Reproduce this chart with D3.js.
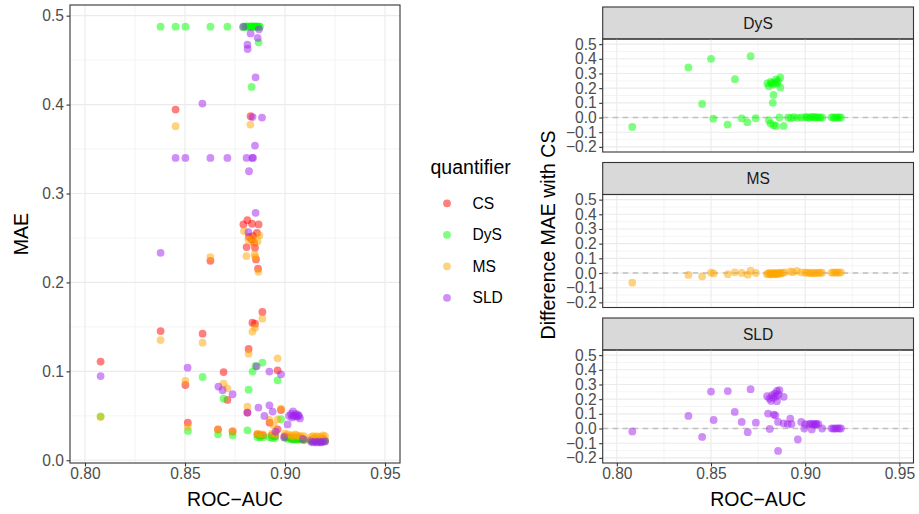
<!DOCTYPE html>
<html><head><meta charset="utf-8">
<script src="https://cdn.jsdelivr.net/npm/d3@7"></script>
<style>body{margin:0;background:#fff}svg{display:block;font-family:"Liberation Sans",Arial,Helvetica,sans-serif}</style>
</head><body><svg id="c" width="919" height="514"></svg>
<script>
// ---------- DATA ----------
const quantifiers = ["CS", "DyS", "MS", "SLD"];
const colors = ["#FF0000", "#00FF00", "#FFA500", "#A020F0"];
const xTicks = [0.80, 0.85, 0.90, 0.95];
const xTickLabels = ["0.80", "0.85", "0.90", "0.95"];
const maeTicks = [0.0, 0.1, 0.2, 0.3, 0.4, 0.5];
const diffTicks = [-0.2, -0.1, 0.0, 0.1, 0.2, 0.3, 0.4, 0.5];
const facetNames = ["DyS", "MS", "SLD"];

// [ROC-AUC, MAE]
const maeCS = [[0.8078,0.111],[0.8378,0.1453],[0.8453,0.3944],[0.8502,0.0846],[0.8514,0.0423],[0.8588,0.1423],[0.8627,0.2243],[0.8665,0.0348],[0.8693,0.0992],[0.8712,0.0678],[0.8738,0.0322],
[0.8792,0.2652],[0.8808,0.2397],[0.8812,0.270],[0.8812,0.0536],[0.8818,0.1251],[0.882,0.2513],[0.8828,0.3869],[0.8833,0.2483],[0.8835,0.266],[0.8837,0.1547],[0.885,0.1536],[0.885,0.239],[0.8855,0.2258],[0.886,0.2558],[0.8865,0.2154],[0.8868,0.2652],[0.8887,0.1667],[0.884,0.252],[0.8845,0.245],
[0.8862,0.029],[0.8875,0.028],[0.889,0.028],[0.8923,0.0423],[0.8963,0.1011],[0.8963,0.0348],[0.898,0.0565],[0.8935,0.028],[0.895,0.027],[0.900,0.027],[0.9015,0.026],[0.903,0.025],[0.904,0.024],[0.905,0.025],[0.906,0.024],[0.907,0.025],[0.908,0.024],[0.9095,0.023],[0.913,0.023],[0.914,0.022],[0.915,0.024],[0.916,0.022],[0.917,0.023],[0.918,0.021],[0.919,0.024],[0.920,0.022]];
const maeDyS = [[0.8078,0.0494],[0.8378,0.4876],[0.8453,0.4876],[0.8502,0.4876],[0.8515,0.033],[0.8588,0.0936],[0.8627,0.4876],[0.8665,0.0292],[0.8693,0.0693],[0.8712,0.4876],[0.8738,0.0281],
[0.879,0.487],[0.880,0.4876],[0.8805,0.488],[0.8812,0.4876],[0.8818,0.4876],[0.8825,0.488],[0.883,0.4876],[0.8835,0.4876],[0.884,0.488],[0.8845,0.4876],[0.885,0.4876],[0.8855,0.488],[0.886,0.4876],[0.8865,0.4876],[0.887,0.4876],[0.8875,0.4876],
[0.8868,0.470],[0.8833,0.4199],[0.8812,0.0337],[0.8818,0.0794],[0.8838,0.0997],[0.8852,0.106],[0.8887,0.1098],[0.8963,0.0899],[0.898,0.0461],
[0.8862,0.026],[0.8875,0.026],[0.889,0.026],[0.8923,0.026],[0.8935,0.025],[0.895,0.025],[0.900,0.025],[0.9015,0.024],[0.903,0.024],[0.904,0.023],[0.905,0.024],[0.906,0.023],[0.907,0.024],[0.908,0.023],[0.9095,0.023],[0.913,0.022],[0.914,0.022],[0.915,0.023],[0.916,0.021],[0.917,0.022],[0.918,0.021],[0.919,0.022],[0.920,0.022]];
const maeMS = [[0.8078,0.0485],[0.8378,0.1352],[0.8453,0.3757],[0.8502,0.0891],[0.8514,0.0378],[0.8588,0.1322],[0.8627,0.2285],[0.8665,0.034],[0.8693,0.0861],[0.8712,0.0809],[0.8738,0.033],
[0.8795,0.2577],[0.8807,0.2296],[0.8812,0.0603],[0.8817,0.2483],[0.8818,0.1199],[0.8827,0.3775],[0.8837,0.1446],[0.8842,0.2446],[0.8848,0.2315],[0.885,0.149],[0.8852,0.2284],[0.8863,0.2464],[0.8867,0.212],[0.8872,0.2528],[0.8887,0.1592],[0.8835,0.25],
[0.8862,0.030],[0.8875,0.029],[0.889,0.029],[0.8922,0.0453],[0.8943,0.0393],[0.8963,0.1146],[0.8963,0.046],[0.898,0.058],[0.8935,0.030],[0.895,0.029],[0.900,0.030],[0.9015,0.029],[0.903,0.028],[0.904,0.027],[0.905,0.029],[0.906,0.028],[0.907,0.027],[0.908,0.027],[0.9095,0.027],[0.913,0.026],[0.914,0.027],[0.915,0.026],[0.916,0.027],[0.917,0.026],[0.918,0.026],[0.919,0.028],[0.920,0.027]];
const maeSLD = [[0.8078,0.0947],[0.8378,0.2333],[0.8453,0.340],[0.8502,0.340],[0.8513,0.1041],[0.8587,0.4011],[0.8627,0.340],[0.8667,0.0828],[0.8688,0.0787],[0.8712,0.340],[0.8738,0.0742],
[0.8808,0.340],[0.8812,0.4674],[0.8813,0.4625],[0.8812,0.0536],[0.882,0.325],[0.8828,0.480],[0.8837,0.340],[0.884,0.340],[0.8838,0.386],[0.885,0.3539],[0.8853,0.4307],[0.8853,0.2783],[0.8817,0.2565],[0.8858,0.1056],[0.8863,0.475],[0.887,0.4846],[0.8885,0.3854],[0.8867,0.0592],[0.8792,0.4876],
[0.8897,0.0498],[0.8922,0.0618],[0.8938,0.0547],[0.8922,0.0997],[0.898,0.0966],[0.8953,0.0322],[0.9013,0.0403],
[0.902,0.050],[0.903,0.052],[0.9035,0.048],[0.904,0.055],[0.905,0.050],[0.9055,0.052],[0.906,0.049],[0.9065,0.051],[0.907,0.050],[0.9075,0.047],[0.9042,0.0498],
[0.8995,0.026],[0.909,0.024],[0.913,0.021],[0.914,0.020],[0.915,0.021],[0.916,0.020],[0.917,0.021],[0.918,0.020],[0.919,0.021],[0.920,0.021]];

// [ROC-AUC, MAE difference with CS]
const diffDyS = [[0.8082,-0.064],[0.838,0.341],[0.8453,0.092],[0.85,0.40],[0.8512,-0.008],[0.8588,-0.048],[0.8627,0.261],[0.8663,-0.006],[0.8693,-0.032],[0.871,0.418],[0.8737,-0.005],
[0.8799,0.232],[0.8807,0.213],[0.8816,0.243],[0.883,0.225],[0.8845,0.259],[0.8856,0.250],[0.8868,0.273],[0.8868,0.205],[0.8822,0.235],[0.8838,0.24],[0.885,0.232],
[0.8832,0.154],[0.8828,0.10],[0.8807,-0.018],[0.8816,-0.041],[0.8833,-0.052],[0.8845,-0.057],[0.8863,0.0],[0.8886,-0.057],
[0.891,0],[0.8925,-0.003],[0.894,0.002],[0.896,-0.002],[0.898,0],[0.9,0.003],[0.901,0.002],[0.902,-0.002],[0.903,0.003],[0.904,0.004],[0.905,0],[0.906,0.002],[0.907,0.001],[0.908,-0.001],[0.909,0],[0.914,0.001],[0.915,0],[0.916,-0.001],[0.917,0],[0.918,0],[0.919,0]];
const diffMS = [[0.8082,-0.066],[0.838,-0.013],[0.8453,-0.023],[0.85,0.003],[0.8514,-0.003],[0.8589,-0.008],[0.8626,0.005],[0.8663,0],[0.8695,-0.011],[0.871,0.016],[0.8738,0],
[0.8797,-0.008],[0.8803,-0.004],[0.881,0.002],[0.8815,-0.01],[0.882,-0.006],[0.8825,-0.003],[0.883,-0.008],[0.8835,0.001],[0.884,-0.005],[0.8845,-0.009],[0.885,-0.002],[0.8855,-0.006],[0.886,0.003],[0.8865,-0.004],[0.887,-0.001],[0.888,0.001],
[0.8921,0.011],[0.8956,0.015],[0.889,0.004],[0.8935,0.006],[0.898,0.004],[0.9,0.002],[0.901,0.003],[0.902,0.001],[0.903,-0.002],[0.904,0.002],[0.905,-0.003],[0.906,0.001],[0.907,0.003],[0.908,0],[0.909,0.002],[0.914,0.003],[0.915,0.002],[0.916,0.004],[0.917,0.003],[0.918,0.002],[0.919,0.005]];
const diffSLD = [[0.8082,-0.020],[0.838,0.086],[0.8453,-0.057],[0.85,0.252],[0.8514,0.058],[0.8589,0.255],[0.8626,0.113],[0.8663,0.045],[0.8695,-0.025],[0.871,0.268],[0.8738,0.040],
[0.8798,0.22],[0.881,0.204],[0.8824,0.227],[0.8838,0.238],[0.885,0.256],[0.8863,0.261],[0.8886,0.216],[0.885,0.186],[0.8819,0.188],[0.8832,0.21],[0.8845,0.22],[0.8858,0.23],
[0.8803,0.102],[0.8833,0.095],[0.8842,0.09],[0.8856,0.045],[0.8812,-0.003],[0.8856,-0.153],
[0.8921,0.068],[0.8886,0.034],[0.8907,0.03],[0.8928,0.03],[0.8961,-0.075],[0.8979,0.045],[0.9,0.03],[0.902,0.03],[0.903,0.033],[0.904,0.028],[0.905,0.031],[0.9055,0.027],[0.906,0.032],[0.907,0.03],[0.8995,0.0],[0.9035,-0.006],[0.909,0],[0.914,0.001],[0.915,-0.001],[0.916,0],[0.917,0.001],[0.918,0],[0.919,0]];

const maeSeries = [maeCS, maeDyS, maeMS, maeSLD];
const diffSeries = [diffDyS, diffMS, diffSLD];
const diffColors = [colors[1], colors[2], colors[3]];

// ---------- STYLE ----------
const tickFont = 15.6, titleFont = 19.5, R = 3.9, ALPHA = 0.5;
const gridMajor = "#EBEBEB", border = "#333333", tickCol = "#4D4D4D";
const svg = d3.select("#c");

function grid(g, x, y, xMaj, xMin, yMaj, yMin) {
  const [x0, x1] = x.range(), [y1, y0] = y.range();
  g.selectAll(null).data(yMin).join("line").attr("x1", x0).attr("x2", x1)
    .attr("y1", d => y(d)).attr("y2", d => y(d)).attr("stroke", gridMajor).attr("stroke-width", 0.55);
  g.selectAll(null).data(xMin).join("line").attr("y1", y0).attr("y2", y1)
    .attr("x1", d => x(d)).attr("x2", d => x(d)).attr("stroke", gridMajor).attr("stroke-width", 0.55);
  g.selectAll(null).data(yMaj).join("line").attr("x1", x0).attr("x2", x1)
    .attr("y1", d => y(d)).attr("y2", d => y(d)).attr("stroke", gridMajor).attr("stroke-width", 1.1);
  g.selectAll(null).data(xMaj).join("line").attr("y1", y0).attr("y2", y1)
    .attr("x1", d => x(d)).attr("x2", d => x(d)).attr("stroke", gridMajor).attr("stroke-width", 1.1);
}
function styleAxis(g) {
  g.select(".domain").remove();
  g.selectAll(".tick line").attr("stroke", border).attr("stroke-width", 1.1);
  g.selectAll(".tick text").attr("fill", tickCol).attr("font-size", tickFont).attr("font-family", "Liberation Sans, Arial, sans-serif");
}
function panelBorder(x, y) {
  const [x0, x1] = x.range(), [y1, y0] = y.range();
  svg.append("rect").attr("x", x0).attr("y", y0).attr("width", x1 - x0).attr("height", y1 - y0)
    .attr("fill", "none").attr("stroke", border).attr("stroke-width", 1.1);
}
const xMinor = [0.825, 0.875, 0.925];

// ---------- LEFT PANEL ----------
const xL = d3.scaleLinear().domain([0.7925, 0.9575]).range([70, 400]);
const yL = d3.scaleLinear().domain([-0.0031, 0.512]).range([463, 5]);
grid(svg.append("g"), xL, yL, xTicks, xMinor, maeTicks, [0.05, 0.15, 0.25, 0.35, 0.45]);
const ptsL = svg.append("g");
maeSeries.forEach((s, i) => {
  ptsL.append("g").selectAll("circle").data(s).join("circle")
    .attr("cx", d => xL(d[0])).attr("cy", d => yL(d[1])).attr("r", R)
    .attr("fill", colors[i]).attr("fill-opacity", ALPHA);
});
panelBorder(xL, yL);
svg.append("g").attr("transform", "translate(70,0)")
  .call(d3.axisLeft(yL).tickValues(maeTicks).tickFormat(d3.format(".1f")).tickSize(3.5).tickPadding(2.5)).call(styleAxis);
svg.append("g").attr("transform", "translate(0,463)")
  .call(d3.axisBottom(xL).tickValues(xTicks).tickFormat((d, i) => xTickLabels[i]).tickSize(3.5).tickPadding(1.5)).call(styleAxis);
svg.append("text").attr("transform", "translate(28,234) rotate(-90)").attr("text-anchor", "middle")
  .attr("font-size", titleFont).text("MAE");
svg.append("text").attr("x", 235).attr("y", 506).attr("text-anchor", "middle")
  .attr("font-size", titleFont).text("ROC\u2212AUC");

// ---------- LEGEND ----------
svg.append("text").attr("x", 430.5).attr("y", 174).attr("font-size", titleFont).text("quantifier");
const leg = svg.append("g").selectAll("g").data(quantifiers).join("g")
  .attr("transform", (d, i) => `translate(447,${203.3 + i * 31.5})`);
leg.append("circle").attr("r", R).attr("fill", (d, i) => colors[i]).attr("fill-opacity", ALPHA);
leg.append("text").attr("x", 25.5).attr("dy", "0.36em").attr("font-size", tickFont).text(d => d);

// ---------- RIGHT FACETS ----------
const xR = d3.scaleLinear().domain([0.7925, 0.9575]).range([602.7, 913.5]);
const stripH = 32, panelH = 113, gap = 10.5, top0 = 7;
const yMinorR = [-0.15, -0.05, 0.05, 0.15, 0.25, 0.35, 0.45];
facetNames.forEach((name, k) => {
  const sTop = top0 + k * (stripH + panelH + gap);
  const pTop = sTop + stripH, pBot = pTop + panelH;
  const yR = d3.scaleLinear().domain([-0.235, 0.535]).range([pBot, pTop]);
  svg.append("rect").attr("x", 602.7).attr("y", sTop).attr("width", 913.5 - 602.7).attr("height", stripH)
    .attr("fill", "#D9D9D9").attr("stroke", border).attr("stroke-width", 1.1);
  svg.append("text").attr("x", (602.7 + 913.5) / 2).attr("y", sTop + stripH / 2).attr("dy", "0.36em")
    .attr("text-anchor", "middle").attr("fill", "#1A1A1A").attr("font-size", tickFont).text(name);
  grid(svg.append("g"), xR, yR, xTicks, xMinor, diffTicks, yMinorR);
  svg.append("line").attr("x1", 602.7).attr("x2", 913.5).attr("y1", yR(0)).attr("y2", yR(0))
    .attr("stroke", "#BEBEBE").attr("stroke-width", 1.5).attr("stroke-dasharray", "5.5,4.5");
  svg.append("g").selectAll("circle").data(diffSeries[k]).join("circle")
    .attr("cx", d => xR(d[0])).attr("cy", d => yR(d[1])).attr("r", R)
    .attr("fill", diffColors[k]).attr("fill-opacity", ALPHA);
  panelBorder(xR, yR);
  svg.append("g").attr("transform", "translate(602.7,0)")
    .call(d3.axisLeft(yR).tickValues(diffTicks).tickFormat(d3.format(".1f")).tickSize(3.5).tickPadding(2.5)).call(styleAxis);
  if (k === facetNames.length - 1) {
    svg.append("g").attr("transform", `translate(0,${pBot})`)
      .call(d3.axisBottom(xR).tickValues(xTicks).tickFormat((d, i) => xTickLabels[i]).tickSize(3.5).tickPadding(1.5)).call(styleAxis);
  }
});
svg.append("text").attr("transform", "translate(555,235) rotate(-90)").attr("text-anchor", "middle")
  .attr("font-size", titleFont).text("Difference MAE with CS");
svg.append("text").attr("x", (602.7 + 913.5) / 2).attr("y", 506).attr("text-anchor", "middle")
  .attr("font-size", titleFont).text("ROC\u2212AUC");
</script></body></html>
